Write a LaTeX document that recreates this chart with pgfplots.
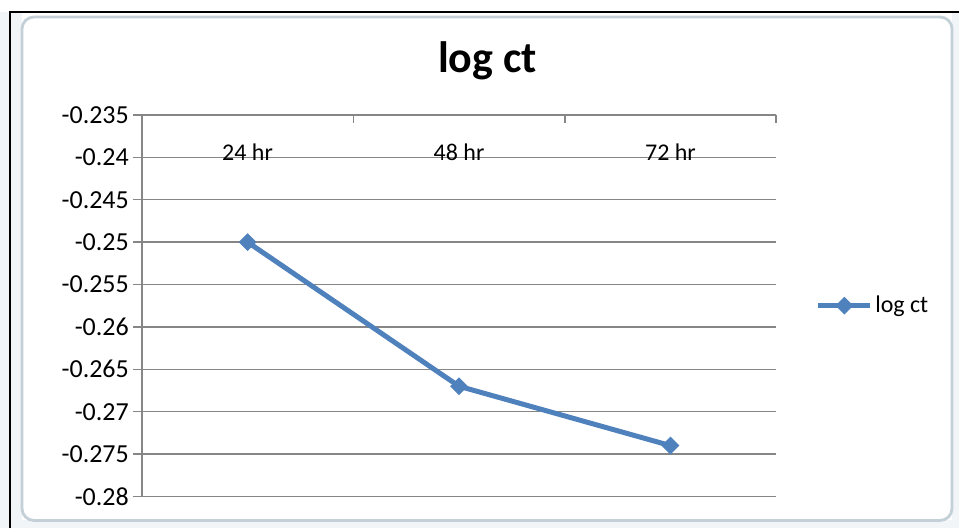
\documentclass[border=0pt]{standalone}
\usepackage{pgfplots}
\pgfplotsset{compat=1.18}
\usepackage{fontspec}
\setmainfont{Carlito}

\definecolor{seriesblue}{HTML}{4F81BD}
\definecolor{gridgrey}{HTML}{868686}
\definecolor{framegrey}{HTML}{C4D0D8}
\definecolor{sheetblue}{HTML}{DCE6EE}

\begin{document}
\begin{tikzpicture}[x=0.5pt,y=-0.5pt]
  % page and worksheet background
  \fill[white] (0,0) rectangle (960,529);
  \fill[sheetblue!40] (0,12) rectangle (22,529);
  \fill[sheetblue!40] (0,521) rectangle (960,529);
  \fill[sheetblue!40] (953,12) rectangle (960,529);
  \draw[black, line width=1pt] (10,529) -- (10,12) -- (960,12);
  % chart area frame
  \draw[framegrey, fill=white, line width=1.4pt, rounded corners=6pt] (22,17) rectangle (953,521);
  % chart title
  \node[font=\bfseries\fontsize{22}{26}\selectfont, anchor=base] at (488,73) {log ct};

  \begin{axis}[
    at={(71pt,-248.5pt)}, anchor=south west,
    width=317.5pt, height=191pt, scale only axis,
    xmin=-0.5, xmax=2.5, ymin=-0.28, ymax=-0.235,
    axis x line*=top, axis y line*=left,
    axis line style={gridgrey, line width=0.75pt},
    tick align=outside,
    major tick length=4.5pt, minor tick length=4pt,
    xtick={0,1,2}, xticklabels={24 hr,48 hr,72 hr},
    major x tick style={draw=none},
    minor xtick={-0.5,0.5,1.5,2.5},
    minor x tick style={gridgrey, line width=0.75pt, yshift=-4pt},
    ytick={-0.28,-0.275,-0.27,-0.265,-0.26,-0.255,-0.25,-0.245,-0.24,-0.235},
    yticklabels={-0.28,-0.275,-0.27,-0.265,-0.26,-0.255,-0.25,-0.245,-0.24,-0.235},
    major y tick style={gridgrey, line width=0.75pt},
    ymajorgrids,
    major grid style={gridgrey, line width=0.75pt},
    yticklabel style={font=\fontsize{13}{15}\selectfont, xshift=1.5pt},
    xticklabel style={font=\fontsize{12}{14}\selectfont, anchor=base, yshift=-27.5pt},
    clip=false,
    legend style={at={(1.062,0.5)}, anchor=west, draw=none, fill=none,
      inner sep=0pt, font=\fontsize{12}{14}\selectfont,
      nodes={inner sep=1.2pt}},
    legend image code/.code={
      \draw[mark repeat=2,mark phase=2] plot coordinates {(0pt,0pt)(13pt,0pt)(26pt,0pt)};
    },
  ]
    \addplot[seriesblue, line width=2.5pt, mark=square*, mark size=2.9pt,
      mark options={rotate=45, solid, line width=0.5pt}]
      coordinates {(0,-0.25) (1,-0.267) (2,-0.274)};
    \addlegendentry{log ct}
  \end{axis}
\end{tikzpicture}
\end{document}
